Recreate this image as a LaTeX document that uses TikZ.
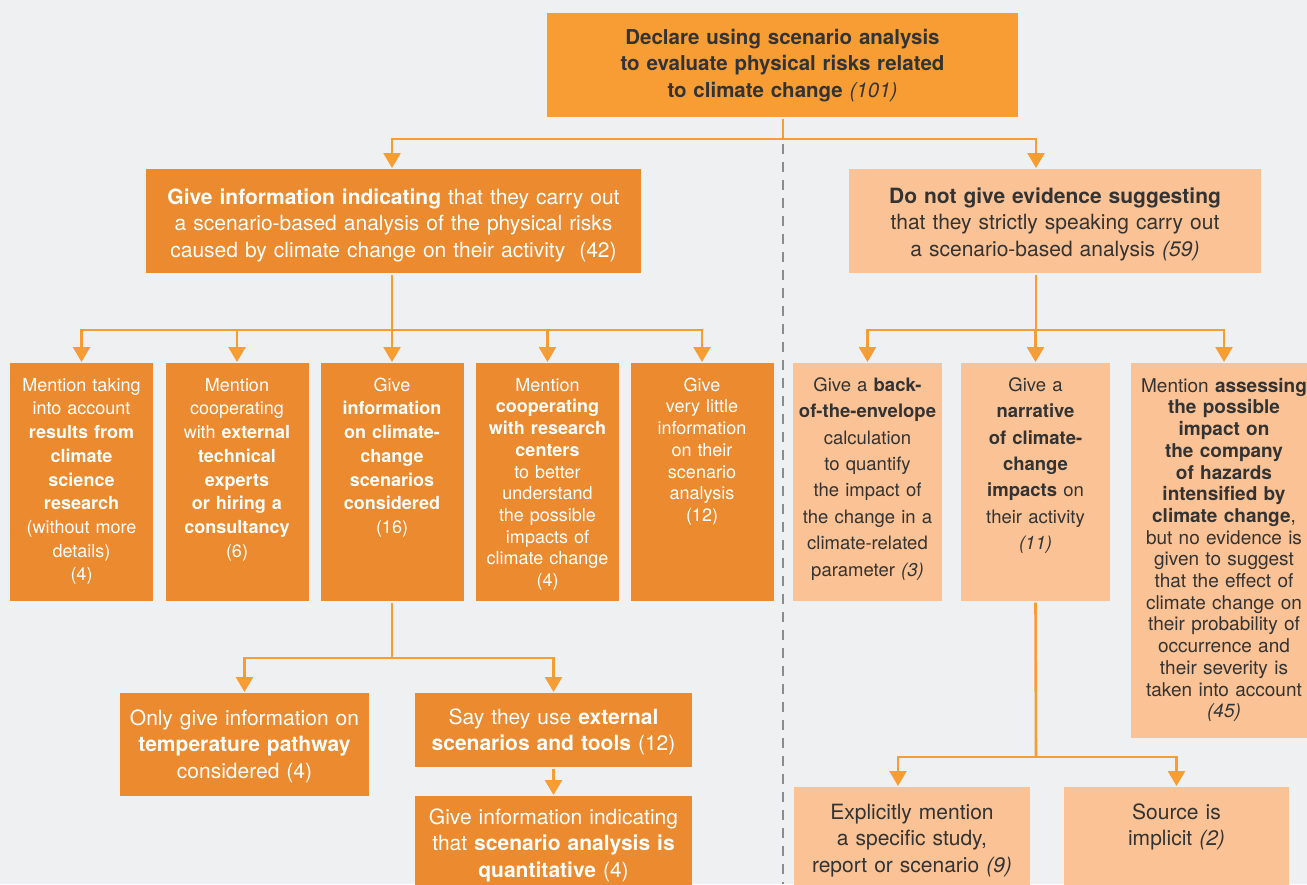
\documentclass[tikz,border=0pt]{standalone}
\usepackage{fontspec}
\setmainfont{TeX Gyre Heros}
\usetikzlibrary{arrows.meta, calc}

\definecolor{topor}{HTML}{F79D34}
\definecolor{darkor}{HTML}{EB8A2E}
\definecolor{peach}{HTML}{FAC295}
\definecolor{lineor}{HTML}{F79D34}
\definecolor{backdrop}{HTML}{EFF0F2}
\definecolor{ink}{HTML}{333333}
\definecolor{divgray}{HTML}{8C8C8C}

% counts printed in italics
\newcommand{\itnum}[1]{{\mdseries\itshape (#1)}}

\begin{document}
\begin{tikzpicture}[
    x=1pt, y=-1pt,
    line width=2.5pt,
    cellbox/.style={inner sep=0pt, anchor=north, align=center},
    darkbox/.style={cellbox, fill=darkor, text=white},
    peachbox/.style={cellbox, fill=peach, text=ink},
    topbox/.style={cellbox, fill=topor, text=ink,
        font=\fontsize{20.5}{26.5}\selectfont\bfseries},
    bigtext/.style={font=\fontsize{21}{26.5}\selectfont},
    smalltext/.style={font=\fontsize{18}{23.7}\selectfont},
    tighttext/.style={font=\fontsize{18}{21.7}\selectfont},
    roomytext/.style={font=\fontsize{18.5}{26.4}\selectfont},
    link/.style={draw=lineor, line width=2.6pt},
    arrowlink/.style={link, -{Triangle[width=17pt, length=15pt]}},
    divider/.style={draw=divgray, line width=2pt, dash pattern=on 10pt off 8pt}
    ]

    % Determines the boundries
    \path[use as bounding box] (0,0) rectangle (1307,884);
    \clip (0,0) rectangle (1307,884);
    \fill[backdrop] (0,0) rectangle (1307,884);

    % Splits the two halves
    \draw[divider] (783,144) -- (783,884);

    % Top of the tree
    \node[topbox, text width=471, text height=31, text depth=73] (top) at (782.5,12)
        {Declare using scenario analysis\\ to evaluate physical risks related\\
         to climate change \itnum{101}};

    % Second level
    \node[darkbox, bigtext, text width=495, text height=35, text depth=69] (give) at (393.5,168)
        {\textbf{Give information indicating} that they carry out\\
         a scenario-based analysis of the physical risks\\
         caused by climate change on their activity\ \ (42)};
    \node[peachbox, bigtext, text width=412, text height=34, text depth=70] (nogive) at (1055,168)
        {\textbf{Do not give evidence suggesting}\\ that they strictly speaking carry out\\
         a scenario-based analysis \itnum{59}};

    % Third level, left side
    \node[darkbox, smalltext, text width=143, text height=28, text depth=210] (l1) at (81.5,362)
        {Mention taking\\ into account\\ \textbf{results from}\\ \textbf{climate}\\ \textbf{science}\\
         \textbf{research}\\ (without more\\ details)\\ (4)};
    \node[darkbox, smalltext, text width=143, text height=28, text depth=210] (l2) at (237,362)
        {Mention\\ cooperating\\ with \textbf{external}\\ \textbf{technical}\\ \textbf{experts}\\
         \textbf{or hiring a}\\ \textbf{consultancy}\\ (6)};
    \node[darkbox, smalltext, text width=143, text height=28, text depth=210] (l3) at (392,362)
        {Give\\ \textbf{information}\\ \textbf{on climate-}\\ \textbf{change}\\ \textbf{scenarios}\\
         \textbf{considered}\\ (16)};
    \node[darkbox, tighttext, text width=143, text height=28, text depth=210] (l4) at (547.5,362)
        {Mention\\ \textbf{cooperating}\\ \textbf{with research}\\ \textbf{centers}\\ to better\\
         understand\\ the possible\\ impacts of\\ climate change\\ (4)};
    \node[darkbox, tighttext, text width=143, text height=28, text depth=210] (l5) at (702,362)
        {Give\\ very little\\ information\\ on their\\ scenario\\ analysis\\ (12)};

    % Third level, right side
    \node[peachbox, roomytext, text width=149, text height=28, text depth=210] (r1) at (867.5,362)
        {Give a \textbf{back-}\\ \textbf{of-the-envelope}\\ calculation\\ to quantify\\ the impact of\\
         the change in a\\ climate-related\\ parameter \itnum{3}};
    \node[peachbox, roomytext, text width=149, text height=28, text depth=210] (r2) at (1035.5,362)
        {Give a\\ \textbf{narrative}\\ \textbf{of climate-}\\ \textbf{change}\\ \textbf{impacts} on\\
         their activity\\ \itnum{11}};
    \node[peachbox, font=\fontsize{19}{21.7}\selectfont, text width=186, text height=29, text depth=346]
        (r3) at (1224,362)
        {Mention \textbf{assessing}\\ \textbf{the possible}\\ \textbf{impact on}\\ \textbf{the company}\\
         \textbf{of hazards}\\ \textbf{intensified by}\\ \textbf{climate change},\\ but no evidence is\\
         given to suggest\\ that the effect of\\ climate change on\\ their probability of\\
         occurrence and\\ their severity is\\ taken into account\\ \itnum{45}};

    % Fourth level
    \node[darkbox, bigtext, text width=249, text height=32, text depth=71] (temp) at (244.5,692)
        {Only give information on\\ \textbf{temperature pathway}\\ considered (4)};
    \node[darkbox, bigtext, text width=277, text height=31, text depth=43] (ext) at (553.5,692)
        {Say they use \textbf{external}\\ \textbf{scenarios and tools} (12)};
    \node[darkbox, bigtext, text width=277, text height=28, text depth=72] (quant) at (553.5,795)
        {Give information indicating\\ that \textbf{scenario analysis is}\\ \textbf{quantitative} (4)};
    \node[peachbox, bigtext, text width=236, text height=32, text depth=72] (study) at (912,786)
        {Explicitly mention\\ a specific study,\\ report or scenario \itnum{9}};
    \node[peachbox, bigtext, text width=225, text height=32, text depth=72] (implicit) at (1176.5,786)
        {Source is\\ implicit \itnum{2}};

    % Junctions of the branches
    \coordinate (j0) at (783,139);
    \coordinate (jl) at (392,330);
    \coordinate (jr) at (1036,330);
    \coordinate (jl3) at (392,658);
    \coordinate (jr2) at (1036,757);

    % Top to second level
    \draw[link] (top.south -| j0) -- (j0);
    \draw[arrowlink] (j0) -| (give.north -| jl);
    \draw[arrowlink] (j0) -| (nogive.north -| jr);

    % Second to third level
    \draw[link] (give.south -| jl) -- (jl);
    \foreach \b in {l1,l2,l3,l4,l5}
        \draw[arrowlink] (jl) -| (\b.north);
    \draw[link] (nogive.south -| jr) -- (jr);
    \foreach \b in {r1,r2,r3}
        \draw[arrowlink] (jr) -| (\b.north);

    % Third to fourth level
    \draw[link] (l3.south) -- (jl3);
    \draw[arrowlink] (jl3) -| (temp.north);
    \draw[arrowlink] (jl3) -| (ext.north);
    \draw[arrowlink] (ext) -- (quant);
    \draw[link] (r2.south) -- (jr2);
    \draw[arrowlink] (jr2) -| ([xshift=-14pt]study.north);
    \draw[arrowlink] (jr2) -| (implicit.north);
\end{tikzpicture}
\end{document}
